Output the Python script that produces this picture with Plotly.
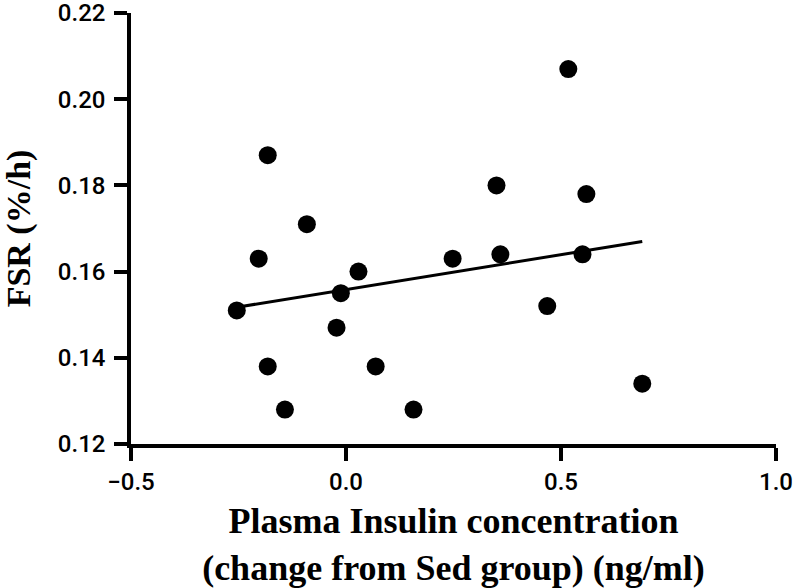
import numpy as np
import plotly.graph_objects as go

# Data
insulin_change = [-0.254, -0.182, -0.203, -0.091, 0.029, -0.012, -0.022, -0.182, -0.142,
                  0.069, 0.157, 0.248, 0.350, 0.359, 0.468, 0.517, 0.559, 0.550, 0.689]
fsr = [0.151, 0.187, 0.163, 0.171, 0.160, 0.155, 0.147, 0.138, 0.128,
       0.138, 0.128, 0.163, 0.180, 0.164, 0.152, 0.207, 0.178, 0.164, 0.134]

x_ticks = [-0.5, 0.0, 0.5, 1.0]
x_tick_labels = ["\u22120.5", "0.0", "0.5", "1.0"]
y_ticks = [0.12, 0.14, 0.16, 0.18, 0.20, 0.22]
y_tick_labels = ["0.12", "0.14", "0.16", "0.18", "0.20", "0.22"]

# Linear regression line over the data range
slope, intercept = np.polyfit(insulin_change, fsr, 1)
fit_x = np.array([min(insulin_change), max(insulin_change)])
fit_y = slope * fit_x + intercept

fig = go.Figure()
fig.add_trace(go.Scatter(x=fit_x, y=fit_y, mode="lines",
                         line=dict(color="black", width=3), showlegend=False,
                         hoverinfo="skip"))
fig.add_trace(go.Scatter(x=insulin_change, y=fsr, mode="markers",
                         marker=dict(color="black", size=18), showlegend=False))

axis_common = dict(showline=True, linecolor="black", linewidth=3.5,
                   ticks="outside", ticklen=13, tickwidth=3.5, tickcolor="black",
                   showgrid=False, zeroline=False, automargin=False,
                   ticklabeloverflow="allow",
                   tickfont=dict(family="Roboto, Liberation Sans, Arial, sans-serif",
                                 size=24, color="black", weight=500))

fig.update_layout(
    width=796, height=588,
    margin=dict(l=131, r=20, t=13, b=144),
    plot_bgcolor="white", paper_bgcolor="white",
    xaxis=dict(range=[-0.5, 1.0], tickvals=x_ticks, ticktext=x_tick_labels,
               title=dict(text="<b>Plasma Insulin concentration<br>(change from Sed group) (ng/ml)</b>",
                          font=dict(family="Liberation Serif, Times New Roman, serif", size=36, color="black"),
                          standoff=20),
               ticklabelstandoff=0,
               **axis_common),
    yaxis=dict(range=[0.12, 0.22], tickvals=y_ticks, ticktext=y_tick_labels,
               title=dict(text="<b>FSR (%/h)</b>",
                          font=dict(family="Liberation Serif, Times New Roman, serif", size=34, color="black"),
                          standoff=20),
               ticklabelstandoff=4,
               **axis_common),
)

# Remove the default page margin so the figure fills the window exactly.
fig.write_html("out.html",
               config={"displayModeBar": False},
               post_script="document.body.style.margin='0';document.body.style.overflow='hidden';")
